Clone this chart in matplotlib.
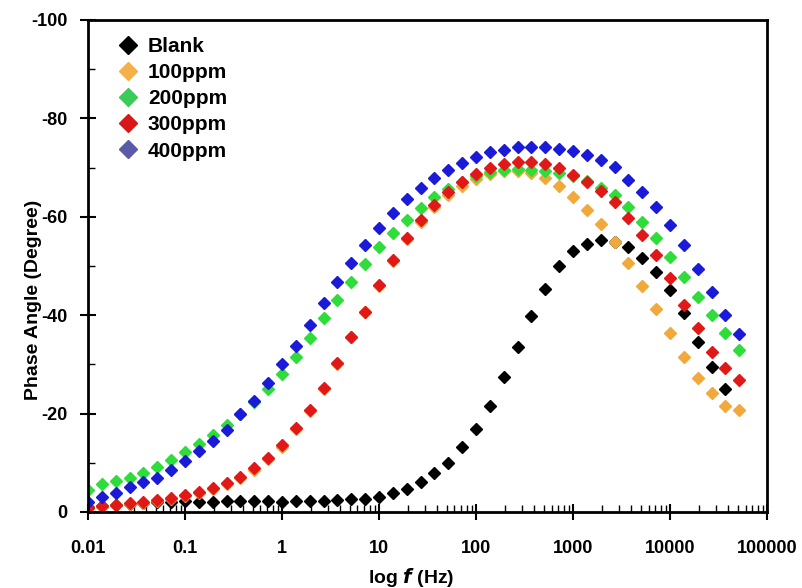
import matplotlib
matplotlib.use('Agg')
import matplotlib.pyplot as plt
from matplotlib.ticker import MultipleLocator, LogLocator, FixedLocator

plt.rcParams['font.family'] = ['Liberation Sans', 'DejaVu Sans']
plt.rcParams['font.weight'] = 'bold'
plt.rcParams['axes.unicode_minus'] = False

# frequencies, 7 points per decade
freq = [0.01, 0.0139, 0.0193, 0.0268, 0.0373, 0.0518, 0.0720,
        0.1, 0.139, 0.193, 0.268, 0.373, 0.518, 0.720,
        1, 1.39, 1.93, 2.68, 3.73, 5.18, 7.20,
        10, 13.9, 19.3, 26.8, 37.3, 51.8, 72.0,
        100, 139, 193, 268, 373, 518, 720,
        1000, 1389, 1931, 2683, 3728, 5179, 7197,
        10000, 13895, 19307, 26827, 37276, 51795]

blank = [-1.0, -1.3, -1.5, -1.7, -1.9, -2.0, -2.1,
         -2.2, -2.0, -2.0, -2.2, -2.2, -2.2, -2.2,
         -2.0, -2.2, -2.2, -2.2, -2.4, -2.6, -2.6,
         -3.0, -3.9, -4.7, -6.1, -7.9, -10.0, -13.2,
         -16.9, -21.5, -27.4, -33.5, -39.8, -45.3, -50.0,
         -53.0, -54.5, -55.3, -54.9, -53.9, -51.6, -48.8,
         -45.1, -40.4, -34.6, -29.5, -25.0]

ppm100 = [-0.8, -1.1, -1.4, -1.6, -1.9, -2.2, -2.6,
          -3.2, -3.9, -4.7, -5.7, -6.9, -8.6, -10.7,
          -13.3, -16.8, -20.5, -25.0, -30.1, -35.5, -40.6,
          -46.0, -51.0, -55.5, -59.0, -62.0, -64.4, -66.3,
          -67.7, -68.7, -69.3, -69.3, -68.9, -67.9, -66.3,
          -64.0, -61.4, -58.5, -54.9, -50.6, -45.9, -41.3,
          -36.4, -31.5, -27.2, -24.2, -21.5, -20.7]

ppm200 = [-4.5, -5.6, -6.3, -7.0, -7.9, -9.1, -10.6,
          -12.2, -13.8, -15.7, -17.7, -19.9, -22.4, -25.0,
          -28.0, -31.5, -35.4, -39.4, -43.1, -46.7, -50.4,
          -53.9, -56.7, -59.3, -61.8, -64.0, -65.7, -67.1,
          -68.3, -69.1, -69.5, -69.7, -69.5, -69.3, -68.9,
          -68.3, -67.3, -65.9, -64.4, -62.0, -58.9, -55.7,
          -51.8, -47.8, -43.7, -40.0, -36.4, -32.9]

ppm300 = [-0.8, -1.2, -1.5, -1.8, -2.0, -2.4, -2.8,
          -3.5, -4.1, -4.9, -5.9, -7.1, -8.9, -11.0,
          -13.6, -17.1, -20.7, -25.2, -30.3, -35.6, -40.7,
          -46.1, -51.2, -55.7, -59.3, -62.4, -65.0, -67.1,
          -68.7, -69.9, -70.7, -71.1, -71.1, -70.7, -69.9,
          -68.5, -67.0, -65.2, -63.0, -59.8, -56.3, -52.2,
          -47.6, -42.1, -37.4, -32.5, -29.3, -26.8]

ppm400 = [-2.0, -3.0, -3.9, -5.1, -6.1, -6.9, -8.5,
          -10.4, -12.4, -14.4, -16.7, -19.9, -22.6, -26.2,
          -30.1, -33.7, -38.0, -42.5, -46.7, -50.6, -54.3,
          -57.7, -60.8, -63.6, -65.9, -67.9, -69.5, -70.9,
          -72.2, -73.2, -73.6, -74.2, -74.2, -74.2, -73.8,
          -73.4, -72.6, -71.5, -70.1, -67.5, -65.0, -62.0,
          -58.3, -54.3, -49.4, -44.7, -40.0, -36.2]

labels = ["Blank", "100ppm", "200ppm", "300ppm", "400ppm"]
colors = ["#000000", "#F2A93B", "#2EDC3A", "#E01818", "#1A1AD8"]
legend_colors = ["#000000", "#F5B04A", "#3CCB5A", "#D81818", "#5A5AA8"]

fig = plt.figure(figsize=(8.03, 5.88), dpi=100)
ax = fig.add_axes([0.1096, 0.1293, 0.8456, 0.8367])

series = [blank, ppm100, ppm200, ppm300, ppm400]
for vals, c, lab in zip(series, colors, labels):
    ax.plot(freq[:len(vals)], vals, 'D', ms=6.5, color=c, mec=c, label=lab)

ax.set_xscale('log')
ax.set_xlim(0.01, 100000)
ax.set_ylim(0, -100)
ax.xaxis.set_major_locator(FixedLocator([0.01, 0.1, 1, 10, 100, 1000, 10000, 100000]))
ax.set_xticklabels(["0.01", "0.1", "1", "10", "100", "1000", "10000", "100000"])
ax.xaxis.set_minor_locator(LogLocator(base=10, subs=range(2, 10)))
ax.yaxis.set_major_locator(MultipleLocator(20))
ax.yaxis.set_minor_locator(MultipleLocator(10))

ax.tick_params(which='major', direction='inout', length=12, width=1.5, labelsize=13)
ax.tick_params(which='minor', direction='in', length=5, width=1)
ax.tick_params(axis='y', which='major', pad=9)
ax.tick_params(axis='x', which='major', pad=14)
for s in ax.spines.values():
    s.set_linewidth(2)

ax.set_ylabel("Phase Angle (Degree)", fontsize=14, fontweight='bold')
ax.yaxis.set_label_coords(-0.068, 0.431)
ax.set_xlabel("log $\\mathbfit{f}$ (Hz)", fontsize=14, fontweight='bold')
ax.xaxis.set_label_coords(0.476, -0.11)

leg = ax.legend(loc='upper left', bbox_to_anchor=(0.031, 0.982), frameon=False,
                fontsize=15, handletextpad=0.46, labelspacing=0.34, handlelength=1.0,
                borderaxespad=0, markerscale=1.35)
for h, c in zip(leg.legend_handles, legend_colors):
    h.set_color(c)
    h.set_markeredgecolor(c)
    h.set_markerfacecolor(c)

fig.savefig("out.png", dpi=100)
plt.close()
